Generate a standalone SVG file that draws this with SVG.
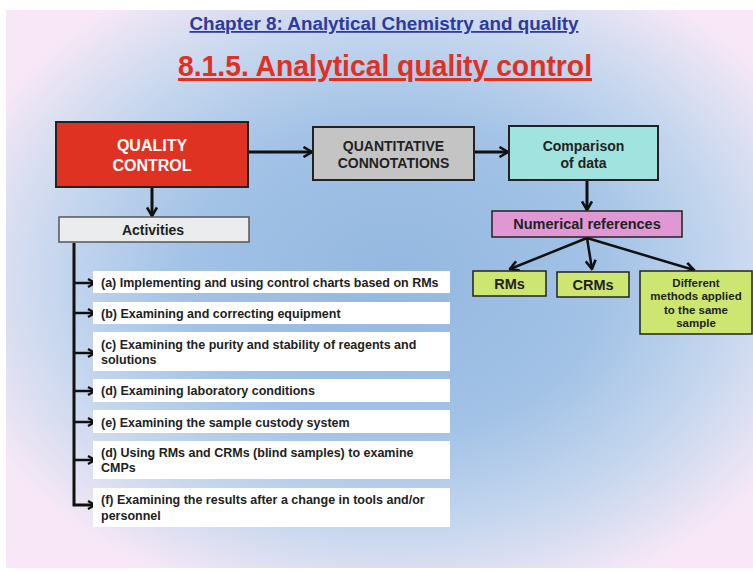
<svg xmlns="http://www.w3.org/2000/svg" width="753" height="572" viewBox="0 0 753 572">
<defs>
<radialGradient id="bg" cx="52%" cy="48%" r="62%" fx="52%" fy="48%">
<stop offset="0" stop-color="#94b8e0"/>
<stop offset="0.45" stop-color="#a2c2e6"/>
<stop offset="0.72" stop-color="#c4d6ee"/>
<stop offset="0.9" stop-color="#e4e2f3"/>
<stop offset="1" stop-color="#f8e8f7"/>
</radialGradient>
<marker id="ah" viewBox="0 0 12 12" refX="10.5" refY="6" markerWidth="12" markerHeight="12" markerUnits="userSpaceOnUse" orient="auto">
<path d="M2,1 L10.5,6 L2,11" fill="none" stroke="#111" stroke-width="2.6"/>
</marker>
<marker id="ahs" viewBox="0 0 10 10" refX="9" refY="5" markerWidth="10" markerHeight="10" markerUnits="userSpaceOnUse" orient="auto">
<path d="M2,1 L9,5 L2,9" fill="none" stroke="#111" stroke-width="2.2"/>
</marker>
</defs>
<style>
.t{font-family:"Liberation Sans",Arial,sans-serif;font-weight:bold;fill:#222}
.n{font-family:"Liberation Sans Narrow","Arial Narrow","Liberation Sans",sans-serif}
.c{text-anchor:middle}
.box{stroke:#222;stroke-width:2}
.item{fill:#ffffff}
.li{font-size:12.5px}
.conn{stroke:#111;stroke-width:3;fill:none}
.cs{stroke:#111;stroke-width:2.5;fill:none}
</style>
<rect x="0" y="0" width="753" height="572" fill="#ffffff"/>
<rect x="6" y="10" width="747" height="558" fill="url(#bg)"/>

<g id="titles">
<text x="384" y="30" class="t n c" style="font-size:18px;fill:#2e3a9c;text-decoration:underline" textLength="389" lengthAdjust="spacingAndGlyphs">Chapter 8: Analytical Chemistry and quality</text>
<text x="385" y="76" class="t n c" style="font-size:30px;fill:#e0301f;text-decoration:underline" textLength="414" lengthAdjust="spacingAndGlyphs">8.1.5. Analytical quality control</text>
</g>

<g id="connectors">
<line x1="248" y1="152" x2="312" y2="152" class="conn" marker-end="url(#ah)"/>
<line x1="474" y1="152" x2="508" y2="152" class="conn" marker-end="url(#ah)"/>
<line x1="587" y1="181" x2="587" y2="210" class="conn" marker-end="url(#ah)"/>
<line x1="152" y1="188" x2="152" y2="216" class="conn" marker-end="url(#ah)"/>
<line x1="587" y1="238" x2="510" y2="269" class="cs" marker-end="url(#ah)"/>
<line x1="587" y1="238" x2="592" y2="269" class="cs" marker-end="url(#ah)"/>
<line x1="587" y1="238" x2="694" y2="270" class="cs" marker-end="url(#ah)"/>
<polyline points="74,243 74,505 95,505" class="conn" marker-end="url(#ahs)"/>
<line x1="74" y1="283" x2="95" y2="283" class="cs" marker-end="url(#ahs)"/>
<line x1="74" y1="313" x2="95" y2="313" class="cs" marker-end="url(#ahs)"/>
<line x1="74" y1="353" x2="95" y2="353" class="cs" marker-end="url(#ahs)"/>
<line x1="74" y1="391" x2="95" y2="391" class="cs" marker-end="url(#ahs)"/>
<line x1="74" y1="422" x2="95" y2="422" class="cs" marker-end="url(#ahs)"/>
<line x1="74" y1="460" x2="95" y2="460" class="cs" marker-end="url(#ahs)"/>
</g>

<g id="quality-control">
<rect x="56" y="122" width="192" height="65" fill="#e03222" class="box"/>
<text x="152" y="151" class="t c" style="font-size:16px;fill:#ffffff">QUALITY</text>
<text x="152" y="171" class="t c" style="font-size:16px;fill:#ffffff">CONTROL</text>
</g>

<g id="quantitative">
<rect x="313" y="127" width="161" height="53" fill="#c4c4c4" class="box"/>
<text x="393.5" y="151" class="t c" style="font-size:14px">QUANTITATIVE</text>
<text x="393.5" y="168" class="t c" style="font-size:14px">CONNOTATIONS</text>
</g>

<g id="comparison">
<rect x="509" y="126" width="149" height="54" fill="#a1e4df" class="box"/>
<text x="583.5" y="151" class="t c" style="font-size:14px">Comparison</text>
<text x="583.5" y="168" class="t c" style="font-size:14px">of data</text>
</g>

<g id="numerical">
<rect x="492" y="211" width="190" height="26" fill="#e098d4" class="box" style="stroke-width:1.5"/>
<text x="587" y="229" class="t c" style="font-size:14.5px">Numerical references</text>
</g>

<g id="rms">
<rect x="473" y="271" width="73" height="25" fill="#cde672" class="box" style="stroke-width:1.5"/>
<text x="509.5" y="289" class="t c" style="font-size:14.5px">RMs</text>
</g>

<g id="crms">
<rect x="557" y="272" width="72" height="25" fill="#cde672" class="box" style="stroke-width:1.5"/>
<text x="593" y="290" class="t c" style="font-size:14.5px">CRMs</text>
</g>

<g id="different">
<rect x="640" y="271" width="112" height="63" fill="#cde672" class="box" style="stroke-width:1.5"/>
<text x="696" y="287" class="t c" style="font-size:11.5px">Different</text>
<text x="696" y="300" class="t c" style="font-size:11.5px">methods applied</text>
<text x="696" y="313.5" class="t c" style="font-size:11.5px">to the same</text>
<text x="696" y="327" class="t c" style="font-size:11.5px">sample</text>
</g>

<g id="activities">
<rect x="59" y="217" width="190" height="25" fill="#ebeced" stroke="#555" stroke-width="1.5"/>
<text x="153" y="235" class="t c" style="font-size:14px">Activities</text>
</g>

<g id="item-a">
<rect x="93" y="271" width="357" height="22" class="item"/>
<text x="101" y="287" class="t li">(a) Implementing and using control charts based on RMs</text>
</g>
<g id="item-b">
<rect x="93" y="302" width="357" height="22" class="item"/>
<text x="101" y="317.5" class="t li">(b) Examining and correcting equipment</text>
</g>
<g id="item-c">
<rect x="93" y="332" width="357" height="39" class="item"/>
<text x="101" y="349" class="t li">(c) Examining the purity and stability of reagents and</text>
<text x="101" y="364" class="t li">solutions</text>
</g>
<g id="item-d">
<rect x="93" y="379" width="357" height="23" class="item"/>
<text x="101" y="395" class="t li">(d) Examining laboratory conditions</text>
</g>
<g id="item-e">
<rect x="93" y="410" width="357" height="23" class="item"/>
<text x="101" y="426.5" class="t li">(e) Examining the sample custody system</text>
</g>
<g id="item-d2">
<rect x="93" y="441" width="357" height="38" class="item"/>
<text x="101" y="457" class="t li">(d) Using RMs and CRMs (blind samples) to examine</text>
<text x="101" y="472" class="t li">CMPs</text>
</g>
<g id="item-f">
<rect x="93" y="488" width="357" height="39" class="item"/>
<text x="101" y="504" class="t li">(f) Examining the results after a change in tools and/or</text>
<text x="101" y="520" class="t li">personnel</text>
</g>
</svg>
